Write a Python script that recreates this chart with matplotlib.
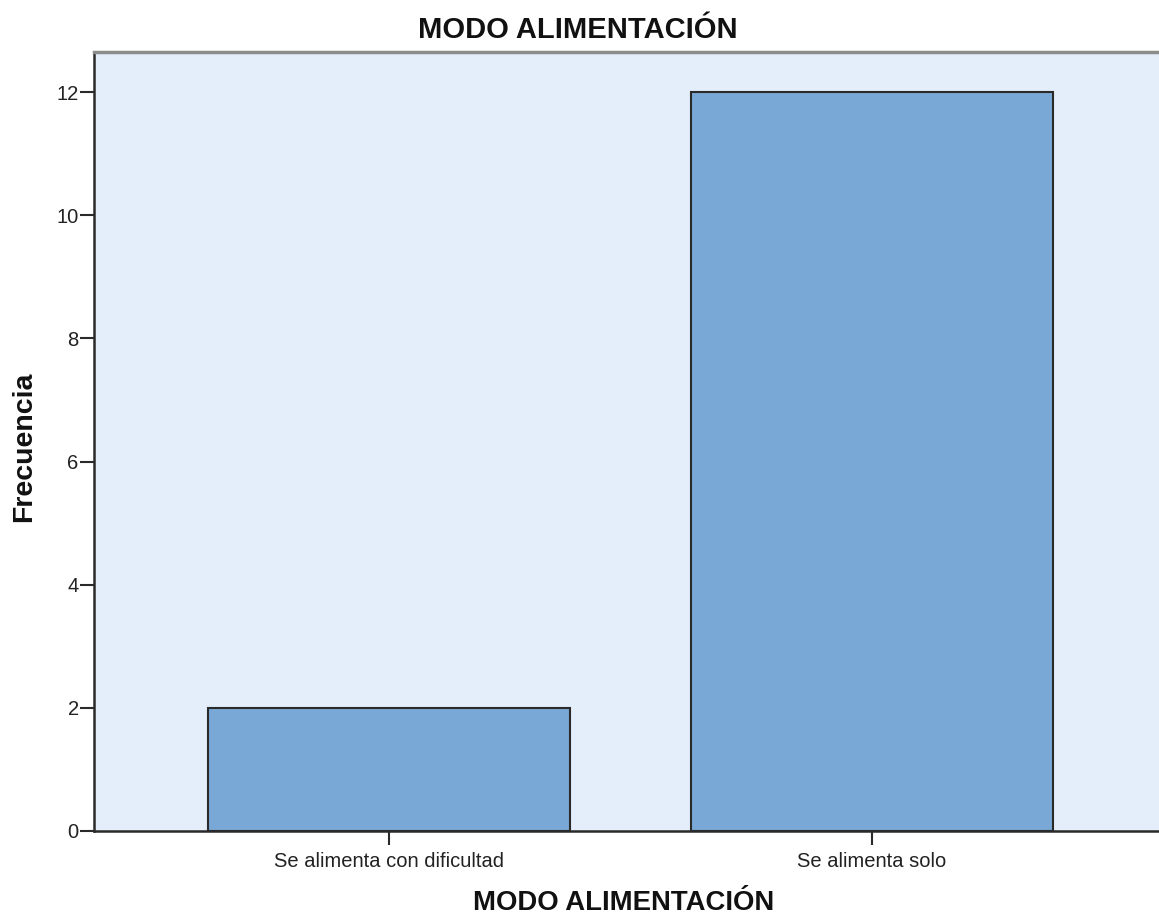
import matplotlib.pyplot as plt
import numpy as np

categorias = ['Se alimenta con dificultad', 'Se alimenta solo']
frecuencias = [2, 12]
yticks = [0, 2, 4, 6, 8, 10, 12]

plt.rcParams['font.family'] = ['Liberation Sans', 'DejaVu Sans']

fig = plt.figure(figsize=(11.59, 9.17), dpi=100)
ax = fig.add_axes([94 / 1159, 86 / 917, 1 - 94 / 1159, (831 - 52) / 917])

x = np.arange(len(categorias))
ax.set_facecolor('#E3EEFA')
ax.bar(x, frecuencias, width=0.75, color='#7AA8D6', edgecolor='#2a2a2a', linewidth=1.5, zorder=2)

ax.set_xlim(-0.611, 1.594)
ax.set_ylim(0, 12.65)
ax.set_xticks(x)
ax.set_xticklabels(categorias)
ax.set_yticks(yticks)

ax.tick_params(axis='both', direction='out', length=10, width=1.5, color='#2a2a2a',
               labelsize=14.5, labelcolor='#222222', pad=1)
ax.tick_params(axis='x', pad=5)

for side in ['left', 'bottom']:
    ax.spines[side].set_linewidth(1.8)
    ax.spines[side].set_color('#2a2a2a')
ax.spines['top'].set_linewidth(2.5)
ax.spines['top'].set_color('#8c8c8c')
ax.spines['right'].set_visible(False)

fig.text(578 / 1159, 1 - 30 / 917, 'MODO ALIMENTACIÓN', ha='center', va='center',
         fontsize=21, fontweight='bold', color='#111111')
ax.set_xlabel('MODO ALIMENTACIÓN', fontsize=19.8, fontweight='bold', color='#111111', va='center')
ax.xaxis.set_label_coords((624 - 94) / 1065, -72 / 779)
ax.set_ylabel('Frecuencia', fontsize=20.5, fontweight='bold', color='#111111', va='center')
ax.yaxis.set_label_coords(-70 / 1065, (831 - 447) / 779)

fig.savefig('out.png', dpi=100)
